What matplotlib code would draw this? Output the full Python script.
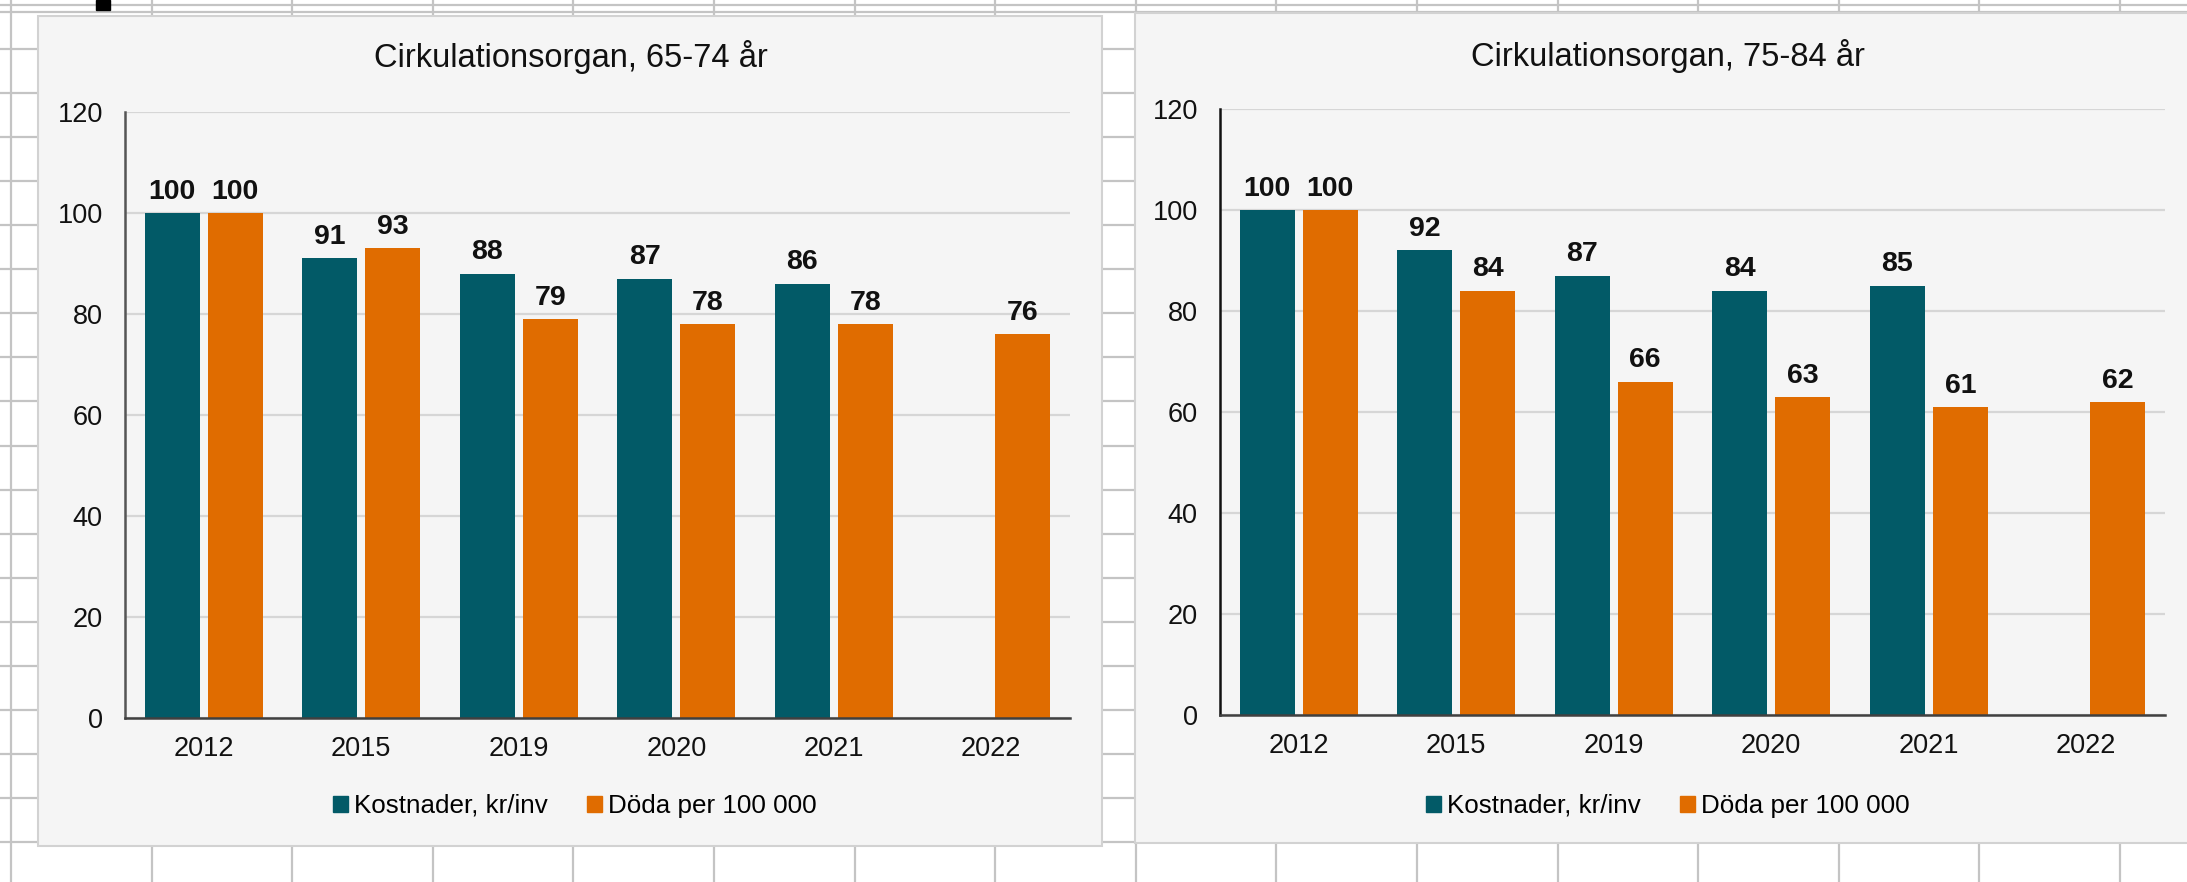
import matplotlib.pyplot as plt
from matplotlib.patches import Rectangle, Patch

plt.rcParams['font.family'] = ['Liberation Sans', 'DejaVu Sans']

years = ["2012", "2015", "2019", "2020", "2021", "2022"]
kost_6574 = [100, 91, 88, 87, 86, None]
doda_6574 = [100, 93, 79, 78, 78, 76]
kost_7584 = [100, 92, 87, 84, 85, None]
doda_7584 = [100, 84, 66, 63, 61, 62]

TEAL = "#025a67"
ORANGE = "#e06c00"
W, H = 2187, 882

fig = plt.figure(figsize=(W / 100, H / 100), dpi=100)

# spreadsheet background (pixel coords)
bg = fig.add_axes([0, 0, 1, 1])
bg.set_xlim(0, W)
bg.set_ylim(H, 0)
bg.axis("off")
for k in range(17):
    x = 11 + 140.6 * k
    bg.plot([x, x], [0, H], color="#c4c4c4", lw=1.6, zorder=1)
for k in range(21):
    y = 5 + 44.05 * k
    bg.plot([0, W], [y, y], color="#c4c4c4", lw=1.6, zorder=1)
bg.plot([0, W], [12, 12], color="#c4c4c4", lw=1.6, zorder=1)
bg.add_patch(Rectangle((96, 0), 14, 10, color="black", zorder=2))
bg.add_patch(Rectangle((38, 16), 1064, 830, facecolor="#f5f5f5", edgecolor="#d2d2d2",
                       lw=1.5, zorder=3))
bg.add_patch(Rectangle((1135, 13), 1100, 830, facecolor="#f5f5f5", edgecolor="#d2d2d2",
                       lw=1.5, zorder=3))


def draw(ax, kost, doda, spine_col):
    x = list(range(len(years)))
    kv = [v if v is not None else float("nan") for v in kost]
    b1 = ax.bar([i - 0.2 for i in x], kv, width=0.35, color=TEAL)
    b2 = ax.bar([i + 0.2 for i in x], doda, width=0.35, color=ORANGE)
    ax.bar_label(b1, labels=[str(v) if v is not None else "" for v in kost],
                 padding=6, fontsize=20.5, fontweight="bold", color="#111111")
    ax.bar_label(b2, labels=[str(v) for v in doda],
                 padding=6, fontsize=20.5, fontweight="bold", color="#111111")
    ax.set_xlim(-0.5, 5.5)
    ax.set_ylim(0, 120)
    ax.set_yticks(range(0, 121, 20))
    ax.set_xticks(x)
    ax.set_xticklabels(years)
    ax.set_facecolor("none")
    ax.grid(axis="y", color="#d6d6d6", lw=1.6)
    ax.set_axisbelow(True)
    for s in ["top", "right"]:
        ax.spines[s].set_visible(False)
    ax.spines["left"].set_color(spine_col)
    ax.spines["bottom"].set_color("#404040")
    ax.spines["left"].set_linewidth(1.8)
    ax.spines["bottom"].set_linewidth(1.8)
    ax.tick_params(axis="y", length=0, pad=16, labelsize=19.5, labelcolor="#111111")
    ax.tick_params(axis="x", length=0, pad=13, labelsize=19.5, labelcolor="#111111")


axL = fig.add_axes([125 / W, (H - 718) / H, 945 / W, 606 / H])
draw(axL, kost_6574, doda_6574, "#555555")
axR = fig.add_axes([1220 / W, (H - 715) / H, 945 / W, 606 / H])
draw(axR, kost_7584, doda_7584, "#111111")

fig.text(571 / W, 1 - 57 / H, "Cirkulationsorgan, 65-74 år", ha="center", va="center",
         fontsize=23.5, color="#111111")
fig.text(1668 / W, 1 - 56 / H, "Cirkulationsorgan, 75-84 år", ha="center", va="center",
         fontsize=23.5, color="#111111")

handles = [Patch(color=TEAL), Patch(color=ORANGE)]
names = ["Kostnader, kr/inv", "Döda per 100 000"]
for cx in [575, 1668]:
    fig.legend(handles, names, loc="center", bbox_to_anchor=(cx / W, 1 - 806 / H),
               ncol=2, frameon=False, fontsize=18.7, handlelength=0.58, handleheight=0.58,
               handletextpad=0.23, columnspacing=1.5, borderpad=0)

fig.savefig("out.png", dpi=100)
